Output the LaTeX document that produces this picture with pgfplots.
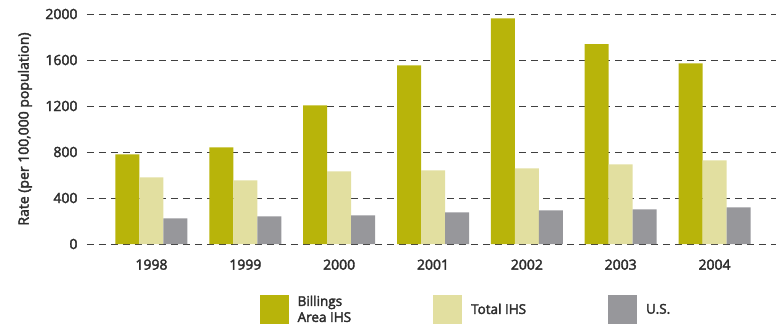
\documentclass[border=0pt]{standalone}
\usepackage{pgfplots}
\pgfplotsset{compat=1.18}
\usepackage{fontspec}
\setmainfont{Open Sans}
\newfontfamily\chartfont{Open Sans}[FakeBold=2.5]
\definecolor{billings}{RGB}{184,180,10}
\definecolor{totalihs}{RGB}{226,223,160}
\definecolor{usgray}{RGB}{151,151,155}
\definecolor{txt}{RGB}{45,45,45}
\begin{document}
\begin{tikzpicture}
\path[use as bounding box] (-87bp,-82bp) rectangle (689bp,244bp);
\begin{axis}[
  scale only axis, width=689bp, height=230bp,
  xmin=-0.687, xmax=6.655, ymin=0, ymax=2000,
  ytick={0,400,800,1200,1600,2000},
  xtick={0,1,2,3,4,5,6},
  xticklabels={1998,1999,2000,2001,2002,2003,2004},
  /pgf/number format/assume math mode=true,
  /pgf/number format/1000 sep={},
  axis line style={draw=none},
  major tick length=0pt,
  ymajorgrids,
  grid style={draw=black!75, line width=0.9bp, dash pattern=on 7bp off 5bp},
  ybar=0pt, bar width=24bp,
  tick label style={font=\chartfont\fontsize{14bp}{16bp}\selectfont, text=txt},
  yticklabel style={xshift=-6bp},
  xticklabel style={yshift=-12bp},
  ylabel={Rate (per 100,000 population)},
  ylabel style={at={(axis description cs:-0.09,0.5)}, anchor=center, font=\chartfont\fontsize{14bp}{16bp}\selectfont, text=txt},
  legend columns=3,
  legend cell align=left,
  legend style={at={(axis description cs:0.55,-0.285)}, anchor=center, draw=none, inner sep=0pt,
    font=\chartfont\fontsize{13.5bp}{15bp}\selectfont, text=txt,
    /tikz/every odd column/.append style={column sep=7bp},
    /tikz/every even column/.append style={column sep=80bp}},
  legend image code/.code={\fill[#1] (0bp,-14.5bp) rectangle (29bp,14.5bp);},
]
\addplot[fill=billings, draw=none] coordinates {(0,780) (1,841) (2,1206) (3,1554) (4,1963) (5,1737) (6,1571)};
\addplot[fill=totalihs, draw=none] coordinates {(0,580) (1,554) (2,632) (3,641) (4,658) (5,693) (6,728)};
\addplot[fill=usgray, draw=none] coordinates {(0,223) (1,241) (2,250) (3,276) (4,293) (5,302) (6,319)};
\legend{\shortstack[l]{Billings\\Area IHS}, Total IHS, U.S.}
\end{axis}
\end{tikzpicture}
\end{document}
